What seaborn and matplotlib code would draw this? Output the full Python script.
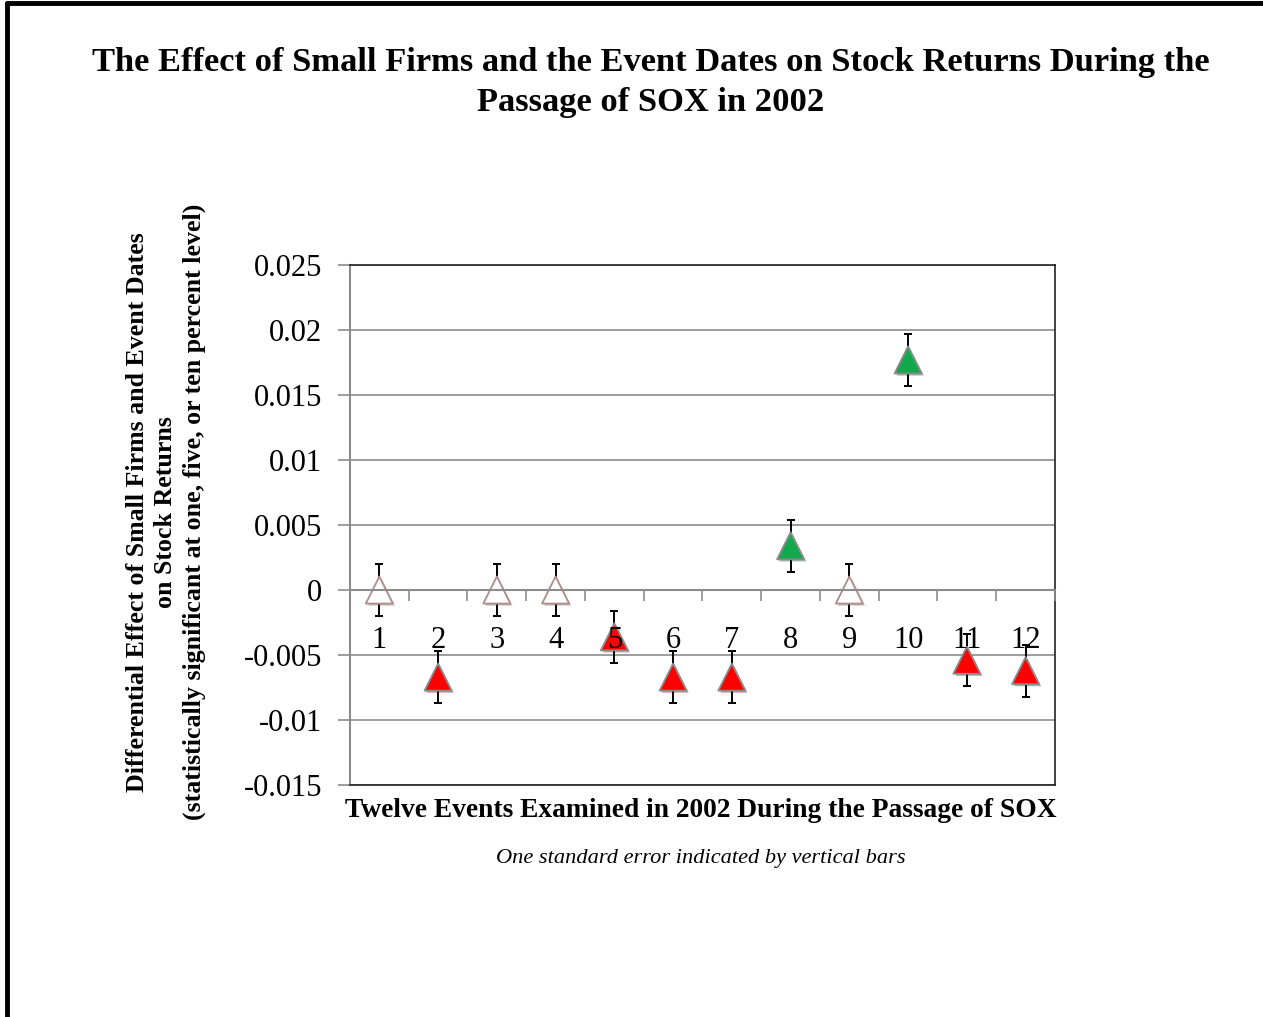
import pandas as pd
import numpy as np
import matplotlib.pyplot as plt
import matplotlib.patheffects as pe
from matplotlib.ticker import FuncFormatter, MultipleLocator
import seaborn as sns

# --- data ---
events = [1, 2, 3, 4, 5, 6, 7, 8, 9, 10, 11, 12]
effects = [0.0, -0.0067, 0.0, 0.0, -0.0036, -0.0067, -0.0067, 0.0034, 0.0, 0.0177, -0.0054, -0.0062]
std_err = [0.002] * 12
signif = ["none", "neg", "none", "none", "neg", "neg", "neg", "pos", "none", "pos", "neg", "neg"]

colors = {"none": "#ffffff", "neg": "#ff0000", "pos": "#12a84e"}
edges = {"none": "#b08c8c", "neg": "#8a8a8a", "pos": "#8a8a8a"}

df = pd.DataFrame({"event": events, "effect": effects, "se": std_err, "sig": signif})

sns.set_theme(style="white")
plt.rcParams["font.family"] = ["Liberation Serif", "DejaVu Serif"]
plt.rcParams.update({"text.color": "black", "axes.labelcolor": "black",
                     "xtick.color": "black", "ytick.color": "black"})

fig = plt.figure(figsize=(12.63, 10.17), dpi=100)
ax = fig.add_axes([0.2771, 0.2281, 0.5582, 0.5113])

# error bars (behind markers)
ax.errorbar(df["event"], df["effect"], yerr=df["se"], fmt="none",
            ecolor="black", elinewidth=1.4, capsize=3, capthick=1.4, zorder=2)

for key in ["none", "neg", "pos"]:
    sub = df[df["sig"] == key]
    sns.scatterplot(data=sub, x="event", y="effect", marker="^", s=380,
                    color=colors[key], edgecolor=edges[key], linewidth=1.3,
                    ax=ax, zorder=3, legend=False,
                    path_effects=[pe.SimplePatchShadow(offset=(1.5, -1.5), alpha=0.35),
                                  pe.Normal()])

ax.set_xlim(0.5, 12.5)
ax.set_ylim(-0.015, 0.025)
ax.yaxis.set_major_locator(MultipleLocator(0.005))
ax.yaxis.set_major_formatter(FuncFormatter(lambda v, p: "0" if abs(v) < 1e-12 else f"{v:g}"))
ax.grid(axis="y", color="#8c8c8c", linewidth=1.2)
ax.set_axisbelow(True)
ax.set_xticks([])
ax.tick_params(axis="y", labelsize=22, length=9, width=1.2, color="#8c8c8c",
               labelcolor="black", direction="out", left=True, pad=11)
ax.set_xlabel("")
ax.set_ylabel("")
for side in ["top", "right", "bottom"]:
    ax.spines[side].set_color("#222222")
    ax.spines[side].set_linewidth(1.2)
ax.spines["left"].set_color("#8c8c8c")
ax.spines["left"].set_linewidth(1.5)

# category axis crossing at zero
zero_pos = (0 - (-0.015)) / (0.025 - (-0.015))
sec = ax.secondary_xaxis(zero_pos)
sec.set_zorder(10)
sec.set_xticks(events, [str(e) for e in events])
sec.set_xticks(np.arange(0.5, 13, 1), minor=True)
sec.tick_params(axis="x", which="major", length=0, labelsize=22, labelcolor="black", pad=26)
sec.tick_params(axis="x", which="minor", length=8, width=1.2, color="#8c8c8c", direction="out")
sec.spines["bottom"].set_color("#8c8c8c")
sec.spines["bottom"].set_linewidth(1.5)

fig.text(0.515, 0.919, "The Effect of Small Firms and the Event Dates on Stock Returns During the\nPassage of SOX in 2002",
         ha="center", va="center", fontsize=24.8, fontweight="bold", linespacing=1.37)
fig.text(0.555, 0.203, "Twelve Events Examined in 2002 During the Passage of SOX",
         ha="center", va="center", fontsize=19.8, fontweight="bold")
fig.text(0.1314, 0.4966, "Differential Effect of Small Firms and Event Dates\non Stock Returns\n(statistically significant at one, five, or ten percent level)",
         ha="center", va="center", rotation=90, fontsize=18.6, fontweight="bold", linespacing=1.31)
fig.text(0.555, 0.156, "One standard error indicated by vertical bars",
         ha="center", va="center", fontsize=16.1, fontstyle="italic")

# outer frame (left and top edges visible)
fig.add_artist(plt.Line2D([0.0055, 0.0055], [0, 0.997], color="black", linewidth=3.5, transform=fig.transFigure))
fig.add_artist(plt.Line2D([0.0055, 1.0], [0.997, 0.997], color="black", linewidth=3.5, transform=fig.transFigure))

fig.savefig("out.png", dpi=100)
